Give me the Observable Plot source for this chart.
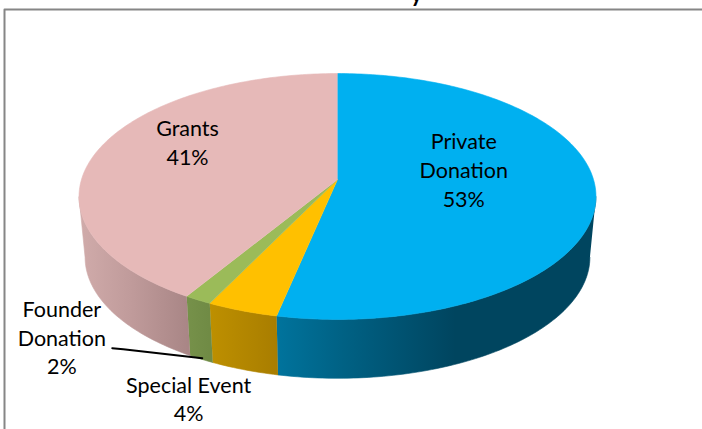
<!DOCTYPE html>
<html>
<head>
<meta charset="utf-8">
<style>html,body{margin:0;padding:0;background:#fff}svg{display:block}</style>
<script src="https://cdn.jsdelivr.net/npm/d3@7"></script>
<script src="https://cdn.jsdelivr.net/npm/@observablehq/plot@0.6"></script>
</head>
<body>
<script>
const categories = ["Private Donation", "Special Event", "Founder Donation", "Grants"];
const shares = [53.3, 3.9, 1.5, 41.3];
const labelLines = [["Private", "Donation"], ["Special Event"], ["Founder", "Donation"], ["Grants"]];
const topColors = ["#00b0f0", "#ffc000", "#9bbb59", "#e6b9b8"];

// Projection of the tilted disc
const top3d = {cx: 337, cy: 179, a: 256, b: 120.6, k: 0.138};
const bot3d = {cx: 337, cy: 240, a: 250, b: 118.8, k: 0.138};
const project = (g, deg, r = 1) => {
  const t = deg * Math.PI / 180, d = 1 + g.k * r * Math.cos(t);
  return [g.cx + g.a * r * Math.sin(t) / d, g.cy - g.b * r * Math.cos(t) / d];
};
const arc = (g, from, to) => {
  const pts = [], n = Math.max(2, Math.ceil(Math.abs(to - from)));
  for (let i = 0; i <= n; i++) pts.push(project(g, from + (to - from) * i / n));
  return pts;
};

// Slice angles, clockwise from the top
let acc = 0;
const slices = categories.map((name, i) => {
  const start = acc * 3.6; acc += shares[i];
  return {name, start, end: acc * 3.6, mid: (start + acc * 3.6) / 2, i};
});

const sideStops = [
  [[278, "#00739c"], [340, "#006285"], [410, "#00506e"], [455, "#00455f"], [595, "#00455f"]],
  [[208, "#be9000"], [278, "#a87d00"]],
  [[187, "#76914a"], [208, "#708b45"]],
  [[80, "#d0abaa"], [130, "#c09b9b"], [187, "#a98686"]]
];
const gradients = () => {
  const defs = d3.create("svg:defs");
  sideStops.forEach((stops, i) => {
    const g = defs.append("linearGradient").attr("id", "side" + i)
      .attr("gradientUnits", "userSpaceOnUse")
      .attr("x1", stops[0][0]).attr("x2", stops[stops.length - 1][0]).attr("y1", 0).attr("y2", 0);
    const span = stops[stops.length - 1][0] - stops[0][0];
    stops.forEach(([x, c]) => g.append("stop").attr("offset", (x - stops[0][0]) / span).attr("stop-color", c));
  });
  return defs.node();
};

const poly = (pts, fill) => Plot.line(pts, {x: d => d[0], y: d => d[1], fill, stroke: fill, strokeWidth: 0.6, curve: "linear"});

// Side walls run between the two silhouette tangents of the disc
const wallFrom = 98, wallTo = 262;
const sideMarks = slices.map(s => {
  const from = Math.max(s.start, wallFrom), to = Math.min(s.end, wallTo);
  if (to <= from) return null;
  const pts = [...arc(top3d, from, to), ...arc(bot3d, to, from)];
  return poly(pts, `url(#side${s.i})`);
});
const topMarks = slices.map(s => poly([[top3d.cx, top3d.cy], ...arc(top3d, s.start, s.end)], topColors[s.i]));

// Label placement relative to each slice's mid-angle
const labelPlacement = [
  {r: 0.5, dx: -2, dy: -17},
  {r: 1.25, dx: -25, dy: 48},
  {r: 1.25, dx: -95, dy: 1},
  {r: 0.5, dx: -29, dy: -22}
];
const labels = slices.map(s => {
  const pl = labelPlacement[s.i], p = project(top3d, s.mid, pl.r);
  return {x: p[0] + pl.dx, y: p[1] + pl.dy, text: [...labelLines[s.i], Math.round(shares[s.i]) + "%"].join("\n")};
});

// Leader from the Founder Donation wall to its label
const founderFoot = project(bot3d, slices[2].mid);
const leader = [[founderFoot[0] + 1, founderFoot[1] - 1], [founderFoot[0] - 78, founderFoot[1] - 10], [founderFoot[0] - 89, founderFoot[1] - 11]];

const frame = [[4, 429], [4, 9], [702, 9]];

const chart = Plot.plot({
  width: 702, height: 429, margin: 0,
  style: {background: "#fff", fontFamily: "Lato, Carlito, sans-serif"},
  x: {domain: [0, 702], range: [0, 702], axis: null},
  y: {domain: [0, 429], range: [0, 429], axis: null},
  marks: [
    gradients,
    Plot.line(frame, {x: d => d[0], y: d => d[1], stroke: "#868686", strokeWidth: 2, curve: "linear"}),
    Plot.text(["y"], {x: () => 416, y: () => -6, text: d => d, fontSize: 22, fontWeight: 700, fill: "#000", lineAnchor: "middle"}),
    ...sideMarks.filter(Boolean),
    ...topMarks,
    Plot.line(leader, {x: d => d[0], y: d => d[1], stroke: "#000", strokeWidth: 2, curve: "linear"}),
    Plot.text(labels, {x: "x", y: "y", text: "text", fontSize: 21.5, lineHeight: 1.33, fill: "#000", textAnchor: "middle", lineAnchor: "middle"})
  ]
});
document.body.appendChild(chart);
</script>
</body>
</html>
